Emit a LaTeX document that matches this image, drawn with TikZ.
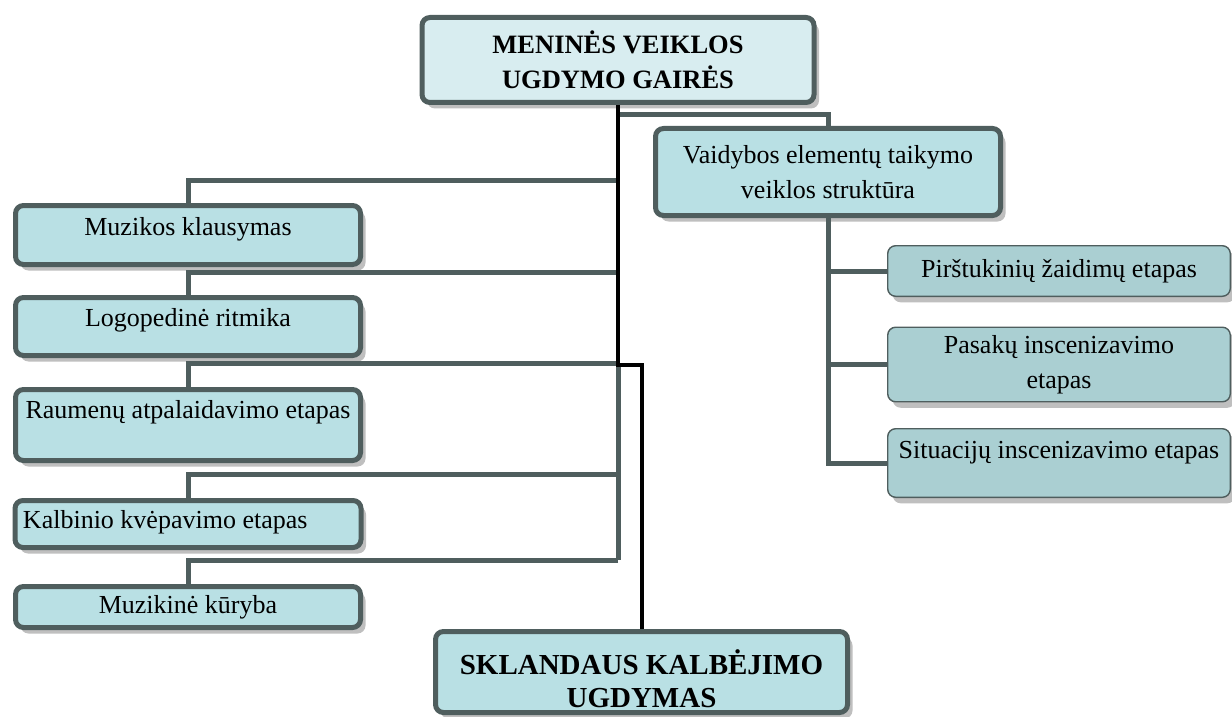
\documentclass[tikz,border=0pt]{standalone}
\usepackage{fontspec}
\setmainfont{Liberation Serif}
\usetikzlibrary{shadows,calc}
\definecolor{edgegray}{RGB}{79,94,94}
\definecolor{boxfill}{RGB}{185,224,228}
\definecolor{topfill}{RGB}{216,237,240}
\definecolor{stagefill}{RGB}{170,207,210}

\begin{document}
\begin{tikzpicture}
		[x=0.5pt,y=-0.5pt,
		box/.style={shape=rectangle,rounded corners=4pt,draw=edgegray,line width=2.5pt,
			fill=boxfill,inner sep=4pt,font=\fontsize{13}{17.5}\selectfont,
			drop shadow={shadow xshift=2.5pt,shadow yshift=-3pt,fill=black!25,opacity=1}},
		headbox/.style={box,fill=topfill,align=center},
		stagebox/.style={box,fill=stagefill,line width=0.7pt},
		liftup/.style={text height=9pt,text depth=#1},
		link/.style={draw=edgegray,line width=2.5pt},
		spine/.style={draw=black,line width=2pt}]
		\useasboundingbox (0,0) rectangle (1232,717);
		%% main boxes
		\node[headbox,font=\fontsize{13.25}{17.5}\selectfont\bfseries,minimum width=196pt,
			minimum height=42.5pt] (gaires) at (618,60) {MENINĖS VEIKLOS\\UGDYMO GAIRĖS};
		\node[headbox,fill=boxfill,font=\fontsize{14.5}{16.5}\selectfont\bfseries,minimum width=206pt,
			minimum height=40.5pt,inner ysep=0pt] (skl) at (641.5,672) {\rule{0pt}{19.5pt}SKLANDAUS KALBĖJIMO\\UGDYMAS};
		\node[box,align=center,minimum width=172.5pt,minimum height=43.5pt] (vaid) at (828,172)
			{Vaidybos elementų taikymo\\veiklos struktūra};
		%% left column
		\node[box,minimum width=172.5pt,minimum height=29.5pt,liftup=8.5pt] (muz) at (188,235) {Muzikos klausymas};
		\node[box,minimum width=172.5pt,minimum height=29pt,liftup=9pt] (logo) at (188,326.5) {Logopedinė ritmika};
		\node[box,minimum width=172.5pt,minimum height=35.5pt,liftup=15.5pt] (raum) at (188,425) {Raumenų atpalaidavimo etapas};
		\node[box,text width=165pt,align=flush left,minimum height=23.5pt,liftup=4.5pt] (kalb) at (188,524) {Kalbinio kvėpavimo etapas};
		\node[box,minimum width=172.5pt,minimum height=20.5pt,liftup=2.5pt] (kur) at (188,607) {Muzikinė kūryba};
		%% right column
		\node[stagebox,minimum width=171.3pt,minimum height=25.3pt] (pirst) at (1059,271) {Pirštukinių žaidimų etapas};
		\node[stagebox,align=center,minimum width=171.3pt,minimum height=36.8pt] (pasak) at (1059,364.5)
			{Pasakų inscenizavimo\\etapas};
		\node[stagebox,minimum width=171.3pt,minimum height=34.3pt,liftup=13.5pt] (sit) at (1059,463) {Situacijų inscenizavimo etapas};
		%% joints on the spine
		\coordinate (r0) at (618,115);
		\coordinate (b1) at (618,181);
		\coordinate (b2) at (618,272);
		\coordinate (b3) at (618,363);
		\coordinate (b4) at (618,474);
		\coordinate (b5) at (618,560);
		\coordinate (jog) at (618,365);
		%% connectors
		\foreach \startNode/\endNode in {b1/muz,b2/logo,b3/raum,b4/kalb,b5/kur}
		{
			\draw[link] (\startNode) -| (\endNode.north);
		}
		\draw[link] (b3) -- (b5);
		\draw[link] (r0) -| (vaid.north);
		\foreach \endNode in {pirst,pasak,sit}
		{
			\draw[link] (vaid.south) |- (\endNode.west);
		}
		\draw[spine] (gaires.south) -- (jog) -| (skl.north);
\end{tikzpicture}
\end{document}
